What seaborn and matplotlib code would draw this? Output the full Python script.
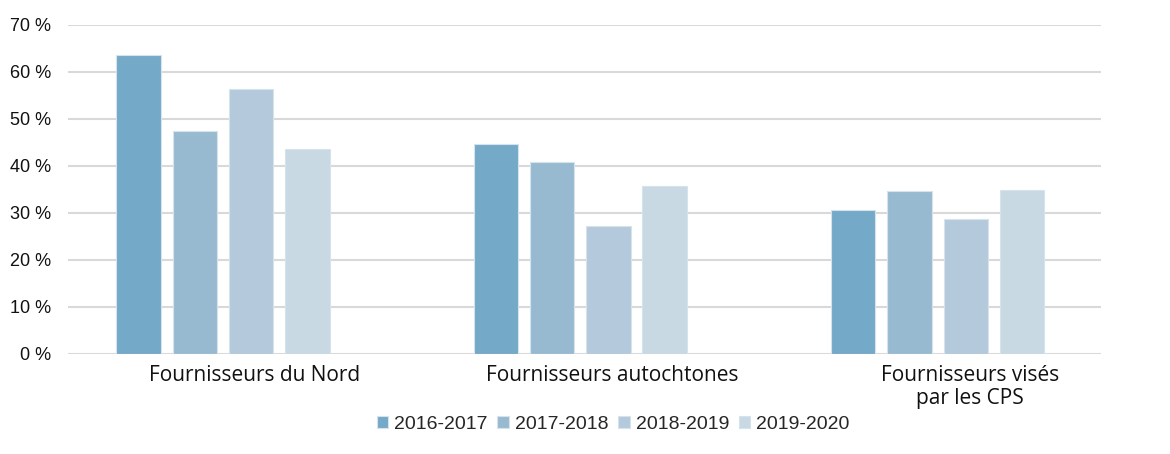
import numpy as np
import pandas as pd
import seaborn as sns
import matplotlib.pyplot as plt
from matplotlib.transforms import ScaledTranslation

categories = ["Fournisseurs du Nord", "Fournisseurs autochtones", "Fournisseurs visés\npar les CPS"]
years = ["2016-2017", "2017-2018", "2018-2019", "2019-2020"]
v_2016 = [63.7, 44.7, 30.6]
v_2017 = [47.4, 40.9, 34.7]
v_2018 = [56.3, 27.3, 28.8]
v_2019 = [43.7, 35.8, 34.8]
colors = ["#74a9c8", "#98bad0", "#b4cadc", "#c8d9e4"]

df = pd.DataFrame({
    "cat": categories * 4,
    "year": np.repeat(years, 3),
    "val": v_2016 + v_2017 + v_2018 + v_2019,
})

sns.set_theme(style="white")
plt.rcParams['font.family'] = ['Liberation Sans', 'DejaVu Sans']

fig = plt.figure(figsize=(11.7, 4.54), dpi=100)
ax = fig.add_axes([0.058, 0.2203, 0.883, 0.7247])

sns.barplot(data=df, x="cat", y="val", hue="year", palette=colors,
            width=0.63, gap=0.21, ax=ax, saturation=1, legend=True,
            edgecolor="#d6e3ec", linewidth=0.8, zorder=3)

ax.set_ylim(0, 70)
ax.set_yticks(range(0, 71, 10))
ax.set_yticklabels([f"{t} %" for t in range(0, 71, 10)], fontsize=13, color="#111111")
ax.set_xlim(-0.434, 2.457)
ax.yaxis.grid(True, color="#d9d9d9", linewidth=1.5, zorder=0)
ax.set_axisbelow(True)
for s in ax.spines.values():
    s.set_visible(False)
ax.tick_params(axis="y", length=0, pad=12)
ax.tick_params(axis="x", length=0, pad=8)
ax.set_xlabel("")
ax.set_ylabel("")

# category labels sit a bit right of the bar groups in the original
off = ScaledTranslation(32 / 100, 0, fig.dpi_scale_trans)
for lab in ax.get_xticklabels():
    lab.set_fontfamily(["Open Sans", "DejaVu Sans"])
    lab.set_fontsize(15)
    lab.set_color("#111111")
    lab.set_linespacing(1.15)
    lab.set_transform(lab.get_transform() + off)

h, l = ax.get_legend_handles_labels()
ax.legend_.remove()
fig.legend(h, l, loc="center", bbox_to_anchor=(0.524, 0.066), ncol=4, frameon=False,
           fontsize=14, handlelength=0.6, handleheight=0.6, handletextpad=0.3,
           columnspacing=0.5)

fig.savefig("out.png", dpi=100)
